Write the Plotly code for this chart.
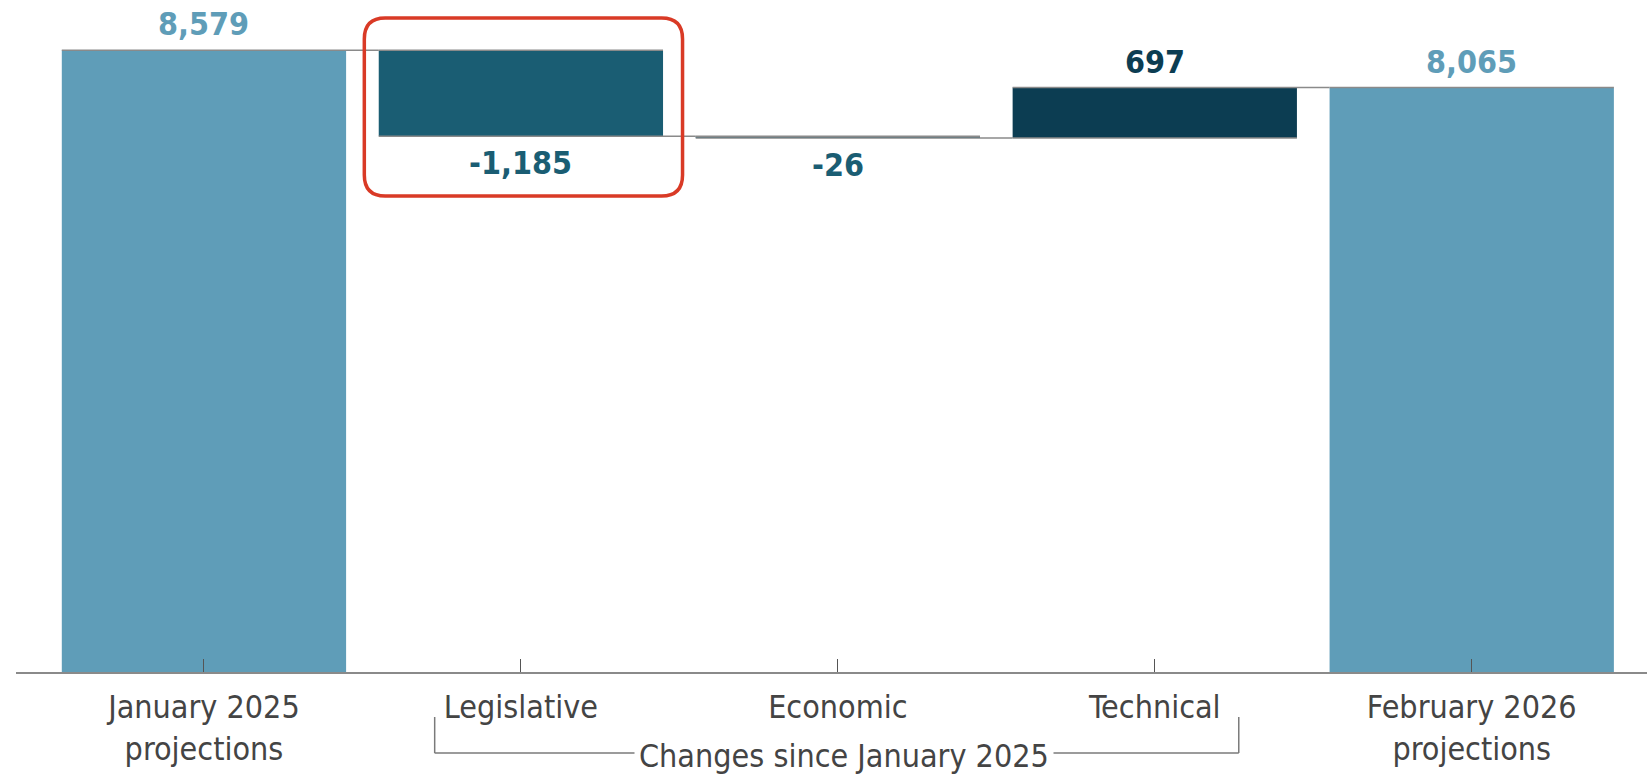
import plotly.graph_objects as go

# Deficit projections, billions of dollars
categories = ["January 2025<br>projections", "Legislative", "Economic", "Technical",
              "February 2026<br>projections"]
measures = ["absolute", "relative", "relative", "relative", "total"]
values = [8579, -1185, -26, 697, 8065]
label_text = ["8,579", "-1,185", "-26", "697", "8,065"]
label_colors = ["#5f9db8", "#1a5d73", "#1a5d73", "#0c3d52", "#5f9db8"]

LIGHT = "#5f9db8"
DECREASE = "#1a5d73"
INCREASE = "#0c3d52"
FONT = "Liberation Sans Narrow, DejaVu Sans Condensed, Roboto, sans-serif"

fig = go.Figure()
fig.add_trace(go.Waterfall(
    x=list(range(len(categories))),
    y=values,
    measure=measures,
    totals=dict(marker=dict(color=LIGHT)),
    decreasing=dict(marker=dict(color=DECREASE)),
    increasing=dict(marker=dict(color=INCREASE)),
    connector=dict(line=dict(color="#8a8a8a", width=1.5), mode="spanning"),
    text=None,
    hoverinfo="skip",
))

# value labels: above rising/total bars, below falling ones
running = 0
for i, (m, v) in enumerate(zip(measures, values)):
    if m == "absolute" or m == "total":
        start, end = 0, v
        running = v
    else:
        start, end = running, running + v
        running = end
    top, bottom = max(start, end), min(start, end)
    above = not (m == "relative" and v < 0)
    fig.add_annotation(
        x=i, y=top if above else bottom, xref="x", yref="y",
        text=f"<b>{label_text[i]}</b>", showarrow=False,
        yanchor="bottom" if above else "top",
        yshift=5 if above else -6,
        font=dict(family=FONT, size=32, color=label_colors[i]),
    )

# bracket grouping the three change categories
bx0, bx1 = 0.728, 3.265
y_top, y_bot = -0.068, -0.1225
line_style = dict(color="#7a7a7a", width=1.5)
fig.add_shape(type="line", xref="x", yref="paper", x0=bx0, x1=bx0, y0=y_top, y1=y_bot, line=line_style)
fig.add_shape(type="line", xref="x", yref="paper", x0=bx1, x1=bx1, y0=y_top, y1=y_bot, line=line_style)
fig.add_shape(type="line", xref="x", yref="paper", x0=bx0, x1=bx1, y0=y_bot, y1=y_bot, line=line_style)
fig.add_annotation(
    x=2.02, y=y_bot, xref="x", yref="paper", text="Changes since January 2025",
    showarrow=False, bgcolor="white", borderpad=4, yanchor="middle", yshift=-3,
    font=dict(family=FONT, size=32, color="#444444"),
)

# rounded highlight box around the legislative change
hx0, hx1 = 0.506, 1.510
hy0, hy1 = 6567, 9023
rx, ry = 0.066, 290
path = (f"M {hx0 + rx},{hy1} L {hx1 - rx},{hy1} Q {hx1},{hy1} {hx1},{hy1 - ry} "
        f"L {hx1},{hy0 + ry} Q {hx1},{hy0} {hx1 - rx},{hy0} "
        f"L {hx0 + rx},{hy0} Q {hx0},{hy0} {hx0},{hy0 + ry} "
        f"L {hx0},{hy1 - ry} Q {hx0},{hy1} {hx0 + rx},{hy1} Z")
fig.add_shape(type="path", path=path, xref="x", yref="y",
              line=dict(color="#d93a26", width=3.5), fillcolor="rgba(0,0,0,0)")

fig.update_layout(
    width=1647, height=779,
    margin=dict(l=16, r=0, t=10, b=107),
    paper_bgcolor="white", plot_bgcolor="white",
    waterfallgap=0.103,
    showlegend=False,
    font=dict(family=FONT, size=32, color="#444444"),
    xaxis=dict(
        range=[-0.593, 4.553],
        tickmode="array", tickvals=list(range(len(categories))), ticktext=categories,
        ticks="inside", ticklen=13, tickwidth=1, tickcolor="#555555",
        ticklabelstandoff=6,
        showline=True, linecolor="#8a8a8a", linewidth=2,
        showgrid=False, zeroline=False,
        tickfont=dict(family=FONT, size=32, color="#444444"),
    ),
    yaxis=dict(range=[0, 9135], visible=False, showgrid=False, zeroline=False),
)

fig.write_html("out.html")
